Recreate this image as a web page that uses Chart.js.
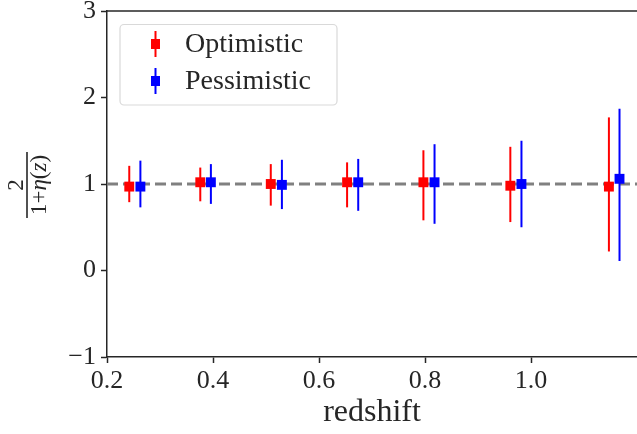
<!DOCTYPE html>
<html>
<head>
<meta charset="utf-8">
<script src="https://cdn.jsdelivr.net/npm/chart.js@4.4.0/dist/chart.umd.min.js"></script>
<style>
  html, body { margin: 0; padding: 0; background: #fff; }
  #wrap { width: 637px; height: 434px; }
</style>
</head>
<body>
<div id="wrap"><canvas id="myChart" width="637" height="434"></canvas></div>
<script>
// data
const optRedshift = [0.242, 0.376, 0.509, 0.653, 0.797, 0.961, 1.147];
const optValue = [0.97, 1.02, 1.00, 1.02, 1.02, 0.98, 0.97];
const optLow = [0.79, 0.80, 0.75, 0.73, 0.58, 0.56, 0.22];
const optHigh = [1.21, 1.19, 1.23, 1.25, 1.39, 1.43, 1.77];

const pesRedshift = [0.263, 0.396, 0.530, 0.674, 0.818, 0.982, 1.167];
const pesValue = [0.97, 1.02, 0.99, 1.02, 1.02, 1.00, 1.06];
const pesLow = [0.73, 0.77, 0.71, 0.69, 0.54, 0.50, 0.11];
const pesHigh = [1.27, 1.23, 1.28, 1.29, 1.46, 1.50, 1.87];

// reference line at 1
const refX = [0.2, 1.2];
const refY = [1, 1];

const xTicks = [0.2, 0.4, 0.6, 0.8, 1.0];
const yTicks = [-1, 0, 1, 2, 3];

const serif = "'Liberation Serif', 'DejaVu Serif', serif";
const dark = '#262626';

function toPoints(xs, ys) {
  return xs.map(function (x, i) { return { x: x, y: ys[i] }; });
}

// vertical error bars, drawn just before each dataset's markers
const errorBars = {
  id: 'errorBars',
  beforeDatasetDraw(chart, args) {
    const ds = chart.data.datasets[args.index];
    if (!ds.errLow) return;
    const ctx = chart.ctx;
    const xs = chart.scales.x, ys = chart.scales.y;
    ctx.save();
    ctx.strokeStyle = ds.borderColor;
    ctx.lineWidth = 2;
    for (let i = 0; i < ds.data.length; i++) {
      const px = xs.getPixelForValue(ds.data[i].x);
      ctx.beginPath();
      ctx.moveTo(px, ys.getPixelForValue(ds.errLow[i]));
      ctx.lineTo(px, ys.getPixelForValue(ds.errHigh[i]));
      ctx.stroke();
    }
    ctx.restore();
  }
};

// top spine, legend box and the fraction label on the y axis
const decorations = {
  id: 'decorations',
  afterDraw(chart) {
    const ctx = chart.ctx;
    const area = chart.chartArea;
    ctx.save();

    // top spine
    ctx.strokeStyle = dark;
    ctx.lineWidth = 1.5;
    ctx.beginPath();
    ctx.moveTo(area.left, area.top);
    ctx.lineTo(area.right, area.top);
    ctx.stroke();

    // legend
    const bx = 120, by = 24.5, bw = 217, bh = 80.5, r = 4;
    ctx.fillStyle = 'rgba(255,255,255,0.8)';
    ctx.strokeStyle = '#d9d9d9';
    ctx.lineWidth = 1.2;
    ctx.beginPath();
    ctx.roundRect(bx, by, bw, bh, r);
    ctx.fill();
    ctx.stroke();

    const rows = [44, 81];
    for (let i = 0; i < 2; i++) {
      const ds = chart.data.datasets[i];
      const cy = rows[i];
      ctx.strokeStyle = ds.borderColor;
      ctx.lineWidth = 2;
      ctx.beginPath();
      ctx.moveTo(155.5, cy - 13);
      ctx.lineTo(155.5, cy + 13);
      ctx.stroke();
      ctx.fillStyle = ds.backgroundColor;
      ctx.fillRect(151, cy - 5, 9, 10);
      ctx.fillStyle = dark;
      ctx.font = '28px ' + serif;
      ctx.textAlign = 'left';
      ctx.textBaseline = 'middle';
      ctx.fillText(ds.label, 185, cy + 1);
    }

    // y axis label: 2 / (1+eta(z)), rotated
    ctx.translate(27, 185);
    ctx.rotate(-Math.PI / 2);
    ctx.fillStyle = dark;
    ctx.strokeStyle = dark;
    ctx.lineWidth = 1.6;
    ctx.beginPath();
    ctx.moveTo(-33, 0);
    ctx.lineTo(33, 0);
    ctx.stroke();
    ctx.textBaseline = 'alphabetic';
    ctx.textAlign = 'center';
    ctx.font = '23px ' + serif;
    ctx.fillText('2', 0, -4);
    const parts = [['1+', ''], ['\u03B7', 'italic '], ['(', ''], ['z', 'italic '], [')', '']];
    let total = 0;
    parts.forEach(function (p) {
      ctx.font = p[1] + '23px ' + serif;
      total += ctx.measureText(p[0]).width;
    });
    let cx = -total / 2;
    ctx.textAlign = 'left';
    parts.forEach(function (p) {
      ctx.font = p[1] + '23px ' + serif;
      ctx.fillText(p[0], cx, 19);
      cx += ctx.measureText(p[0]).width;
    });
    ctx.restore();
  }
};

const ctx = document.getElementById('myChart').getContext('2d');
const myChart = new Chart(ctx, {
  type: 'scatter',
  data: {
    datasets: [
      {
        label: 'Optimistic',
        data: toPoints(optRedshift, optValue),
        errLow: optLow,
        errHigh: optHigh,
        backgroundColor: '#ff0000',
        borderColor: '#ff0000',
        borderWidth: 0,
        pointStyle: 'rect',
        pointRadius: 7,
        pointHoverRadius: 7
      },
      {
        label: 'Pessimistic',
        data: toPoints(pesRedshift, pesValue),
        errLow: pesLow,
        errHigh: pesHigh,
        backgroundColor: '#0000ff',
        borderColor: '#0000ff',
        borderWidth: 0,
        pointStyle: 'rect',
        pointRadius: 7,
        pointHoverRadius: 7
      },
      {
        type: 'line',
        label: 'reference',
        data: toPoints(refX, refY),
        borderColor: '#808080',
        borderWidth: 3,
        borderDash: [11, 5],
        pointRadius: 0,
        showLine: true,
        fill: false
      }
    ]
  },
  options: {
    responsive: false,
    animation: false,
    layout: { autoPadding: false, padding: { top: 11, right: 0, left: 0, bottom: 0 } },
    plugins: {
      legend: { display: false },
      tooltip: { enabled: false }
    },
    scales: {
      x: {
        type: 'linear',
        min: 0.2,
        max: 1.2,
        afterBuildTicks: function (scale) {
          scale.ticks = xTicks.map(function (v) { return { value: v }; });
        },
        afterFit: function (scale) {
          scale.height = 77;
          scale.paddingLeft = 0;
          scale.paddingRight = 0;
        },
        ticks: {
          autoSkip: false,
          maxRotation: 0,
          padding: 3,
          color: dark,
          font: { family: serif, size: 26 },
          callback: function (v) { return v.toFixed(1); }
        },
        grid: { drawOnChartArea: false, drawTicks: true, tickLength: 6, tickColor: dark, tickWidth: 1.5 },
        border: { color: dark, width: 1.5 },
        title: {
          display: true,
          text: 'redshift',
          color: dark,
          font: { family: serif, size: 32 },
          padding: { top: 0, bottom: 2 }
        }
      },
      y: {
        min: -1,
        max: 3,
        afterBuildTicks: function (scale) {
          scale.ticks = yTicks.map(function (v) { return { value: v }; });
        },
        afterFit: function (scale) {
          scale.width = 107;
          scale.paddingTop = 0;
          scale.paddingBottom = 0;
        },
        ticks: {
          padding: 5,
          color: dark,
          font: { family: serif, size: 26 },
          callback: function (v) { return String(v).replace('-', '\u2212'); }
        },
        grid: { drawOnChartArea: false, drawTicks: true, tickLength: 6, tickColor: dark, tickWidth: 1.5 },
        border: { color: dark, width: 1.5 }
      }
    }
  },
  plugins: [errorBars, decorations]
});
</script>
</body>
</html>
